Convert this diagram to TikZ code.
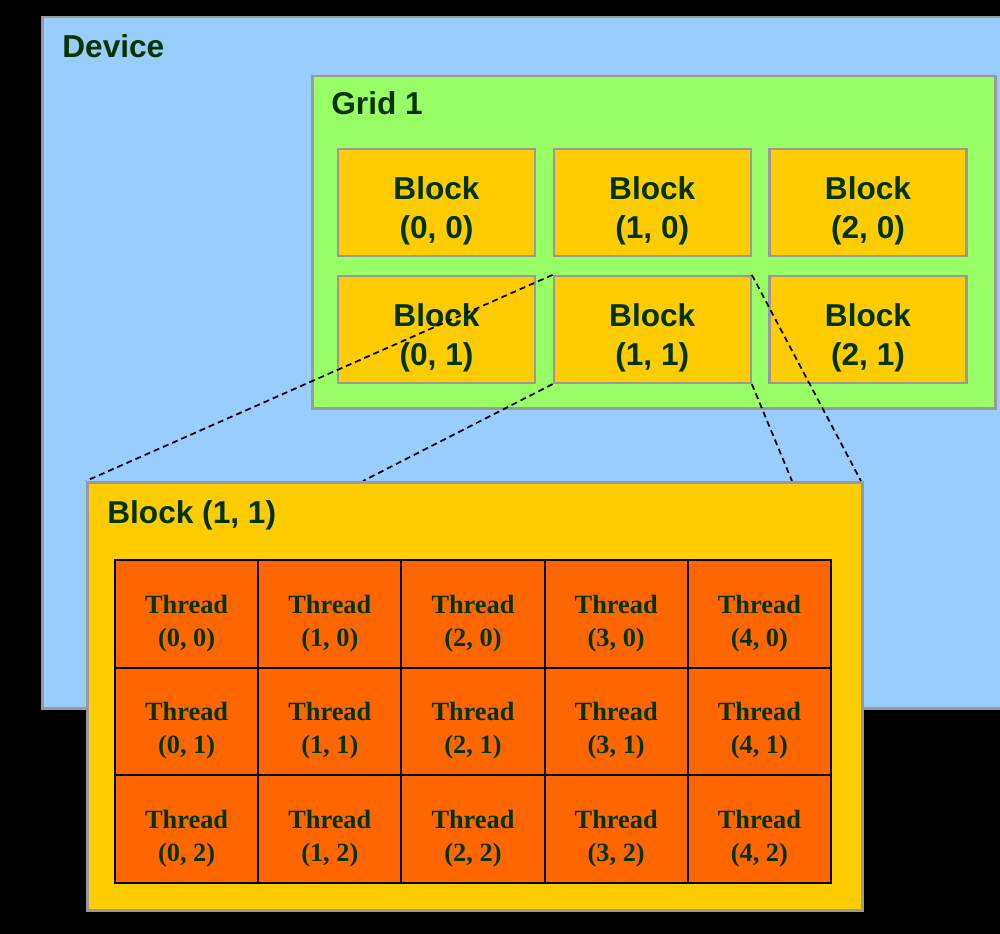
\documentclass[tikz,border=0pt]{standalone}
\usepackage{fontspec}
\setmainfont{Liberation Serif}
\setsansfont{Liberation Sans}
\usetikzlibrary{positioning}

\definecolor{devblue}{HTML}{99CCFF}
\definecolor{gridgreen}{HTML}{99FF66}
\definecolor{blockgold}{HTML}{FFCC00}
\definecolor{threadorange}{HTML}{FF6600}
\definecolor{labelgreen}{HTML}{003300}
\definecolor{edgegray}{HTML}{999999}

\tikzset{
  panel/.style={draw=edgegray, line width=0.5mm, anchor=north west, inner sep=0pt},
  title/.style={anchor=base west, inner sep=0pt, text=labelgreen,
    font=\sffamily\bfseries\fontsize{18}{21.6}\selectfont},
  blockcell/.style={draw=edgegray, line width=0.45mm, fill=blockgold,
    minimum width=39.4mm, minimum height=21.4mm, align=center, text=labelgreen,
    text height=45pt, font=\sffamily\bfseries\fontsize{18}{22.2}\selectfont},
  threadcell/.style={draw=black, line width=0.4mm, fill=threadorange,
    minimum width=28.64mm, minimum height=21.54mm, align=center, text=labelgreen,
    text height=40pt, font=\rmfamily\bfseries\fontsize{15}{18.7}\selectfont},
  zoomline/.style={line width=0.35mm, dash pattern=on 1.2mm off 0.8mm}
}

\begin{document}
\begin{tikzpicture}[x=0.2mm,y=-0.2mm]
    \path[use as bounding box, fill=black] (0,0) rectangle (1000,934);
    \clip (0,0) rectangle (1000,934);

    %% Device
    \node[panel, fill=devblue, minimum width=200mm, minimum height=138.2mm] (device) at (41,16) {};
    \node[title] (devicetitle) at (62,58) {Device};

    %% Grid 1
    \node[panel, fill=gridgreen, minimum width=136.6mm, minimum height=66.4mm] (grid) at (311,75) {};
    \node[title] (gridtitle) at (331,115) {Grid 1};

    \foreach \i in {0,1,2}
      \foreach \j in {0,1}
        \node[blockcell] (b\i\j) at ({436.5+215.75*\i},{202.5+127*\j}) {Block\\(\i, \j)};

    %% zoom lines
    \coordinate (focusnw) at (86,481);
    \coordinate (focusne) at (861,481);
    \coordinate (lowleft) at (363,481);
    \coordinate (lowright) at (792,481);
    \draw[zoomline] (b11.north west) -- (focusnw);
    \draw[zoomline] (b11.south west) -- (lowleft);
    \draw[zoomline] (b11.north east) -- (focusne);
    \draw[zoomline] (b11.south east) -- (lowright);

    %% Block (1, 1)
    \node[panel, fill=blockgold, minimum width=155mm, minimum height=85.6mm] (focus) at (focusnw) {};
    \node[title] (focustitle) at (107,523) {Block (1, 1)};

    \foreach \i in {0,...,4}
      \foreach \j in {0,1,2}
        \node[threadcell] (t\i\j) at ({186.6+143.2*\i},{613.8+107.67*\j}) {Thread\\(\i, \j)};
\end{tikzpicture}
\end{document}
